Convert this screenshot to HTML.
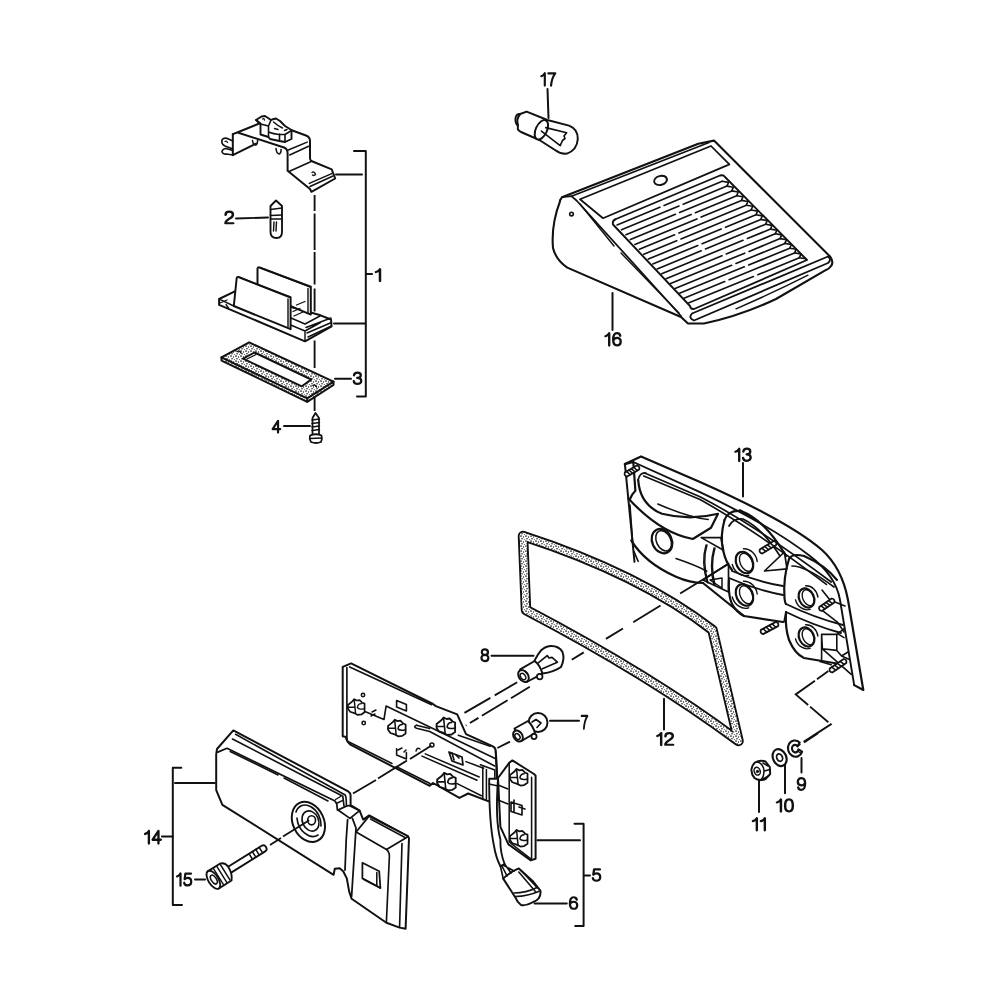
<!DOCTYPE html>
<html><head><meta charset="utf-8">
<style>
html,body{margin:0;padding:0;background:#fff;}
svg{display:block;}
text{font-family:"Liberation Sans",sans-serif;font-size:19px;fill:#111;stroke:#111;stroke-width:0.7px;}
</style></head><body>
<svg width="1000" height="1000" viewBox="0 0 1000 1000">
<rect width="1000" height="1000" fill="#fff"/>
<g fill="none" stroke="#111" stroke-width="1.98" stroke-linecap="round" stroke-linejoin="round">
<!-- ===== LABELS LINES ===== -->
<!-- bracket 1 -->
<path d="M354 151H365.8V396.4H357"/>
<path d="M366.5 274H372"/>
<path d="M336 174.6H362"/>
<path d="M334 323.6H365"/>
<path d="M335 378.7H351"/>
<path d="M236 218.5L268 217.5"/>
<path d="M284 426H310"/>
<!-- 17 / 16 / 13 -->
<path d="M547.5 89L548.5 118"/>
<path d="M612.5 293V330"/>
<path d="M743 463V496.5"/>
<!-- 8 / 7 / 12 -->
<path d="M491.5 655.7H533.5"/>
<path d="M550 720.8H579"/>
<path d="M664 698.7V729.5"/>
<!-- 9 10 11 -->
<path d="M801.5 758V772.4"/>
<path d="M785 764.7V793.3"/>
<path d="M759 780V812"/>
<!-- bracket 14 -->
<path d="M181.3 767.8H172.8V905H182"/>
<path d="M175 783.1H214.8"/>
<path d="M162 836.6H172.8"/>
<path d="M195 879.5H205"/>
<!-- bracket 5 -->
<path d="M574.5 823.8H583.6V926H575.2"/>
<path d="M537.4 840.3H580"/>
<path d="M584 875.6H590"/>
<path d="M534.6 903.4H566.8"/>
</g>

<!-- axis dashed part 1 -->
<path d="M314.6 195V210.9M314.6 213.6V250M314.6 252V284.4M314.6 288.4V311.6M314.6 340.4V368M314.6 372V411" stroke="#111" stroke-width="1.87" fill="none"/>
<!-- ===== PART 1 : holder bracket ===== -->
<g fill="none" stroke="#111" stroke-width="1.98" stroke-linecap="round" stroke-linejoin="round">
<path d="M232.8 134.2V155.2L256 143.6"/>
<path d="M232.8 134.2L238.4 132L260.5 123"/>
<path d="M238.4 132.8L284 147.5Q287.6 149 287.6 153V170.8L310 189L311.4 191.8L335.2 178.5L331.7 169.4L311.4 161Q310 160 310 158V141Q310 137 306 135.5L291 130"/>
<path d="M288.3 150L307.2 142.1M289.7 155L308.6 146.3M289 171.5L310.7 161.7M309.3 183.4L331.7 173.6M310 186.5L333 176" stroke-width="1.54"/>
<path d="M312 172.5Q314.5 171 315.5 174.5Q314 176 312.5 175" stroke-width="1.43"/>
<!-- tabs under -->
<path d="M252.5 140.5Q253 145 256 145Q258 143 257.5 140M276 148.5Q276.5 154 279.5 154Q281.5 152 281 149.5" stroke-width="1.54"/>
<!-- left tab -->
<path d="M232.8 141L228.5 139Q224 137 222 140Q221 144 225 146L232.8 149" stroke-width="1.65"/>
<path d="M232.8 150.5L226 148.5Q222 149 222 152Q223 154.5 226.5 154L232.8 155" stroke-width="1.65"/>
<path d="M225 141.5Q226.5 140.5 227.5 142.5" stroke-width="1.32"/>
<!-- switch -->
<path d="M256 120L261.5 116.5L265 116L271 120L272 119.5L276 118.5L280 121L285 126L291.5 130V139L285 142L279.5 141L270 139L268.5 137L260.5 134.5V124Z" fill="#fff" stroke-width="1.9"/>
<path d="M256 120L260.5 123.5M260.5 124L268.5 126V137M268.5 132Q273.5 134 279 134.5L285 134.5L291.5 130.5M279.5 134V141M285 134.5V142M271 120L268.5 126" fill="none" stroke-width="1.6"/>
<path d="M273.5 122Q278 126 282.5 128M274.5 128.5L278 129.5M284.5 130.5L287 129.5" fill="none" stroke-width="1.4"/>
<path d="M262.5 119Q264 118 264.5 120" fill="none" stroke-width="1.3"/>
</g>
<!-- bulb 2 -->
<g fill="none" stroke="#111" stroke-width="1.87" stroke-linecap="round" stroke-linejoin="round">
<path d="M270.5 206L276 200.5L282 206V232Q282 238 276.5 238Q270.5 238 270.5 232Z"/>
<path d="M270.5 209.5L282 208M270.5 215.5L282 215M271 219H281.5M274 222L273.5 231M276.5 222L276 231" stroke-width="1.43"/>
</g>
<!-- holder base -->
<g fill="#fff" stroke="#111" stroke-width="1.98" stroke-linecap="round" stroke-linejoin="round">
<path d="M219.1 299L235.4 291.2L320.5 315.3L331 319.5L331.6 326.3L305 341.3L219.1 304.9Z"/>
<path d="M257.5 292V268.5Q258 267 259.5 267.5L310.8 286.7V314.6Z"/>
<path d="M261 268L310.5 287" fill="none" stroke-width="1.43"/>
<path d="M236.7 278Q237 276.5 238.5 277L290.6 297.7V329.2L233.8 306Z"/>
<path d="M240 277.5L290.6 297M288 299V327M308 288.5V313" fill="none" stroke-width="1.43"/>
<path d="M220.4 299.7L233.8 306M290.6 325L305 331L320.5 322.5M305 331V341.3M291 318L305 324L320 316M306 327.5L331 318M307 333L331.5 322.5M308 337L331.5 326" fill="none" stroke-width="1.43"/>
<path d="M293 311.5L300 308.5M294 316L303 312M296.5 305L305 301.5" fill="none" stroke-width="1.32"/>
<path d="M220 303L227 300M226 304.5L228.5 308" fill="none" stroke-width="1.32"/>
</g>
<!-- gasket 3 -->
<defs>
<pattern id="stip" width="5" height="5" patternUnits="userSpaceOnUse">
<rect width="5" height="5" fill="#fff"/>
<circle cx="1" cy="1" r="0.85" fill="#111"/>
<circle cx="3.5" cy="2" r="0.7" fill="#222"/>
<circle cx="2" cy="3.8" r="0.75" fill="#111"/>
<circle cx="4.3" cy="4.4" r="0.5" fill="#333"/>
</pattern>
</defs>
<g stroke="#111" stroke-width="1.98" stroke-linecap="round" stroke-linejoin="round">
<path d="M221.5 357.3L249.1 342.4L333.5 381.6V385L307.2 401.8L221.5 360.6Z" fill="url(#stip)"/>
<path d="M221.5 357.3L307.2 398.4L333.5 381.6M307.2 398.4V401.8" fill="none"/>
<path d="M243 358.6L254.5 352.5L311.2 379.5L301.8 386.3Z" fill="#fff"/>
<path d="M237.5 351.5Q239.5 350 241 353M313 385.5Q315 384 316.5 387" fill="none" stroke-width="1.5"/>
<path d="M247 359L256 354.5" fill="none" stroke-width="1.32"/>
</g>
<!-- screw 4 -->
<g fill="none" stroke="#111" stroke-width="1.76" stroke-linecap="round" stroke-linejoin="round">
<path d="M312.5 418L315.5 413L319 418V434M312.5 418V434"/>
<path d="M312 420L319.5 419M312 423.5L319.5 422.5M312 427L319.5 426M312 430.5L319.5 429.5" stroke-width="1.43"/>
<path d="M310 435.5Q309 439 311 442Q316 444 321 442Q322.5 439 321.5 435.5Q316 433 310 435.5Z"/>
<path d="M310 438.5L321.5 438" stroke-width="1.43"/>
</g>

<!-- ===== bulb 17 ===== -->
<g fill="#fff" stroke="#111" stroke-width="1.98" stroke-linecap="round" stroke-linejoin="round">
<path d="M520.2 114Q516 113.5 515.4 119Q515.5 124.5 518.5 126"/>
<path d="M520.2 114L526.6 111.6L547.4 120L569 125.6Q578 129 577.8 139Q577 150 567 153.6Q561 154.5 555 150L539.4 140L521 132Q517.8 130 517.8 128.8L518 125Q516 119 520.2 114Z"/>
<ellipse cx="541.4" cy="129.8" rx="5.6" ry="10.4" transform="rotate(25 541.4 129.8)"/>
<path d="M545.8 127.6L566.6 132.8L564 136L565 138.5L562.5 140.5L560.2 145.6L541.4 131.2" fill="none" stroke-width="1.65"/>
</g>
<!-- ===== lamp 16 ===== -->
<g fill="#fff" stroke="#111" stroke-width="2.09" stroke-linecap="round" stroke-linejoin="round">
<path d="M560 200.4L562 197.2L698.3 143.7L714 140.6L830.3 256.8Q834 262 831 266Q829 269 826.5 269.7L776 299Q740 316 704 323.5L688 323.5L681 317L567.3 267.6Q556 260 553 248Q551 225 560 201.4Z"/>
<path d="M571.5 196.2L709 142.5" fill="none" stroke-width="1.65"/>
<path d="M562 197.2L571.5 196.2L577 201L681 316" fill="none" stroke-width="1.76"/>
<path d="M580 204L614 246M621 253L679 313" fill="none" stroke-width="1.43"/>
<path d="M580 199.3L711 146L729.4 164.4L603 218.2Z" fill="none" stroke-width="1.76"/>
<path d="M616 219L720 175.5Q723.5 174.5 725 177L807 260L694 309Q690.5 309.5 690 306L613 224.5Q612 220.5 616 219Z" fill="none" stroke-width="1.87"/>
<path d="M617.1 224.9L659.9 207.2M664.1 205.4L722.2 181.3M621.5 229.8L679.0 206.0M683.2 204.3L727.0 186.1M626.0 234.7L675.4 214.3M679.6 212.5L731.8 190.9M630.4 239.6L691.2 214.5M695.4 212.7L736.7 195.7M634.9 244.5L696.9 218.9M701.2 217.1L741.5 200.4M639.4 249.3L674.6 234.8M678.9 233.0L746.3 205.2M643.8 254.2L676.7 240.7M681.0 238.9L751.1 210.0M648.3 259.1L721.2 229.1M725.5 227.3L756.0 214.8M652.8 264.0L697.8 245.5M702.1 243.7L760.8 219.5M657.2 268.9L701.2 250.8M705.5 249.0L765.6 224.3M661.7 273.8L743.0 240.3M747.4 238.5L770.5 229.1M666.1 278.7L722.0 255.7M726.3 253.9L775.3 233.8M670.6 283.5L744.7 253.2M749.1 251.4L780.1 238.6M675.1 288.4L731.6 265.3M736.0 263.5L784.9 243.4M679.5 293.3L744.3 266.8M748.7 265.0L789.8 248.2M684.0 298.2L724.7 281.6M729.1 279.7L794.6 252.9M688.4 303.1L753.4 276.5M757.9 274.7L799.4 257.7" fill="none" stroke-width="1.65"/>
<path d="M722.2 181.3L728.5 182.4L727.0 186.1L733.3 187.2L731.8 190.9L738.2 192.0L736.7 195.7L743.0 196.8L741.5 200.4L747.8 201.5L746.3 205.2L752.7 206.3L751.1 210.0L757.5 211.1L756.0 214.8L762.3 215.9L760.8 219.5L767.2 220.6L765.6 224.3L772.0 225.4L770.5 229.1L776.8 230.2L775.3 233.8L781.6 234.9L780.1 238.6L786.5 239.7L784.9 243.4L791.3 244.5L789.8 248.2L796.1 249.3L794.6 252.9L801.0 254.0L799.4 257.7L805.8 258.8" fill="none" stroke-width="1.65"/>
<path d="M692 313.5Q688 318 694 320.5L828 263Q832 259.5 828 256.5Z" fill="none" stroke-width="1.87"/>
<path d="M736 308.8Q775 292 808 275.2" fill="none" stroke-width="1.43"/>
<ellipse cx="660.5" cy="180.4" rx="6.5" ry="4.5" transform="rotate(-15 660.5 180.4)" fill="none" stroke-width="1.87"/>
<path d="M662 175.5Q667 176 667 180" fill="none" stroke-width="1.43"/>
<circle cx="571.5" cy="214" r="1.8" fill="none" stroke-width="1.65"/>
</g>
<!-- ===== lamp 13 ===== -->
<g fill="none" stroke="#111" stroke-width="2.2" stroke-linecap="round" stroke-linejoin="round">
<path d="M624.9 464.1L641 456.4L700 482Q790 522 822 550Q842 568 848 600L863.3 690L854.2 686L850 672L832 667L795 656L784 622L703 583L634 561.4Z" fill="#fff" stroke="none"/>
<path d="M624.9 464.1L641 456.4L700 482Q790 522 822 550Q842 568 848 600L863.3 690L854.2 685.1"/>
<path d="M624.9 464.1L633.3 462L635.4 490.8Q632 494 630 499"/>
<path d="M633.3 462L700 492.2Q770 525 810 556Q836 576 840 600L854.2 685.1" stroke-width="1.9"/>
<path d="M624.9 464.1L634.5 561.8" stroke-width="2"/>
<path d="M645.2 473.2L700 496.7Q760 528 831.2 582M643.8 476L700 499.5Q758 532 826.4 584.4M740 510L755.6 519.6M638 480Q640 472 646 473" stroke-width="1.7"/>
<!-- upper-left lid -->
<path d="M638.2 480.2Q640 505 662 513.8Q690 521 718 513.8L711 527.8L692.8 539Q660 533 628.4 498.4"/>
<path d="M657.8 504Q690 518 708.2 519.4" stroke-width="1.54"/>

<!-- bowl 1 -->
<path d="M631.2 540.4Q645 563 676 576.8Q690 583 703 583"/>
<path d="M676 558.6Q695 565 706.8 571.2" stroke-width="1.54"/>
<path d="M634 551.6L638.2 561.4M632.6 541.8L630 505" stroke-width="1.54"/>
<ellipse cx="662" cy="541.1" rx="9.8" ry="12.6" transform="rotate(-25 662 541.1)"/><ellipse cx="663.6" cy="540.8000000000001" rx="7.1" ry="10.7" transform="rotate(-25 663.6 540.8000000000001)" stroke-width="1.54"/>
<!-- divider left -->
<path d="M701.2 537.6L720.8 537.6L723.6 550.2Z" stroke-width="1.65"/>
<path d="M707 545Q702 560 708 583M715 548Q710 565 715 585" stroke-width="1.43"/>
<!-- bowl 2 -->
<path d="M724.5 520Q728 510 741 511Q765 520 786 556"/>
<path d="M729 526Q733 518 743 519Q762 528 780 556" stroke-width="1.7"/>
<path d="M724.5 520Q720 536 723 550Q726 563 732 570"/>
<path d="M732 571Q758 582 783 586M729 578Q756 590 783 595" stroke-width="1.9"/>
<ellipse cx="744.5" cy="562.5" rx="8.2" ry="11.2" transform="rotate(-25 744.5 562.5)"/><ellipse cx="746.1" cy="562.2" rx="5.9" ry="9.5" transform="rotate(-25 746.1 562.2)" stroke-width="1.4"/><path transform="rotate(-25 744.5 562.5)" d="M732.6 559.1A11.9 14.0 0 0 0 742.9 575.9M749.4 549.6A11.9 13.4 0 0 1 756.4 567.0" stroke-width="1.4"/>
<!-- bowl 3 -->
<path d="M729 580Q728 595 732 604Q737 613 744 616L783 622"/>
<path d="M703 583L744 616"/>
<path d="M703 580L728.5 563.5L728.5 592Z" stroke-width="1.7"/>
<path d="M710 580L722 578V588Z" stroke-width="1.5"/>
<ellipse cx="744.5" cy="595" rx="8.2" ry="11.2" transform="rotate(-25 744.5 595)"/><ellipse cx="746.1" cy="594.7" rx="5.9" ry="9.5" transform="rotate(-25 746.1 594.7)" stroke-width="1.4"/><path transform="rotate(-25 744.5 595)" d="M732.6 591.6A11.9 14.0 0 0 0 742.9 608.4M749.4 582.1A11.9 13.4 0 0 1 756.4 599.5" stroke-width="1.4"/>
<path d="M764.5 571L787 568.8L784.4 552Z" stroke-width="1.7"/>
<path d="M706 545Q701 562 707 582M714 548Q709 566 714 585" stroke-width="1.4"/>
<!-- bowl 4 -->
<path d="M789 559Q792 553 804 556Q825 565 837 580"/>
<path d="M792 566Q806 566 834 587" stroke-width="1.7"/>
<path d="M789 559Q783 578 784.5 598Q785 603 786 604"/>
<path d="M786 604Q815 618 843 625M786 612Q815 626 841 633" stroke-width="1.9"/>
<ellipse cx="806.5" cy="598" rx="7.4" ry="9.9" transform="rotate(-25 806.5 598)"/><ellipse cx="808.1" cy="597.7" rx="5.3" ry="8.4" transform="rotate(-25 808.1 597.7)" stroke-width="1.4"/><path transform="rotate(-25 806.5 598)" d="M795.8 595.0A10.7 12.4 0 0 0 805.0 609.9M810.9 586.6A10.7 11.9 0 0 1 817.2 602.0" stroke-width="1.4"/>
<!-- bowl 5 -->
<path d="M786 612Q785 628 789 640Q795 654 804 658L840 664"/>
<ellipse cx="806.5" cy="637" rx="7.4" ry="9.9" transform="rotate(-25 806.5 637)"/><ellipse cx="808.1" cy="636.7" rx="5.3" ry="8.4" transform="rotate(-25 808.1 636.7)" stroke-width="1.4"/><path transform="rotate(-25 806.5 637)" d="M795.8 634.0A10.7 12.4 0 0 0 805.0 648.9M810.9 625.6A10.7 11.9 0 0 1 817.2 641.0" stroke-width="1.4"/>
<path d="M784 622L786 612" stroke-width="1.6"/>
<path d="M821.6 634.4H836.8V650.4L822.4 648.8ZM821.6 634.4V661.6M822.4 648.8L851.2 674.4M836.8 650.4L841.6 656L848 652M837.6 633.6L844 628.8M837.6 633.6L844 637.6M841.6 656L848.8 659.2M820 661.6L831.2 664.8M822.9 610.9L837.7 622.4L844 632M822 590L830 600L845 606" stroke-width="1.6"/>
<path d="M627.2 476.6L639.2 469.6Q640.2 466.2 636.8 465.4L624.8 472.4Q623.8 475.8 627.2 476.6Z" fill="#fff" stroke-width="1.76"/><path d="M630.3 474.8L626.5 471.4M632.7 473.4L628.9 470.0M635.1 472.0L631.3 468.6M637.5 470.6L633.7 467.2" stroke-width="1.54"/><path d="M762.2 553.6L776.2 545.1Q777.1 541.7 773.8 540.9L759.8 549.4Q758.9 552.8 762.2 553.6Z" fill="#fff" stroke-width="1.76"/><path d="M765.7 551.4L761.9 548.2M768.5 549.7L764.7 546.5M771.3 548.0L767.5 544.8M774.1 546.3L770.3 543.1" stroke-width="1.54"/><path d="M821.8 611.0L834.3 602.5Q835.1 599.1 831.7 598.5L819.2 607.0Q818.4 610.4 821.8 611.0Z" fill="#fff" stroke-width="1.76"/><path d="M825.0 608.8L821.0 605.8M827.5 607.1L823.5 604.1M830.0 605.4L826.0 602.4M832.5 603.7L828.5 600.7" stroke-width="1.54"/><path d="M763.1 634.1L778.1 626.1Q779.2 622.8 775.9 621.9L760.9 629.9Q759.8 633.2 763.1 634.1Z" fill="#fff" stroke-width="1.76"/><path d="M766.8 632.1L763.2 628.7M769.8 630.5L766.2 627.1M772.8 628.9L769.2 625.5M775.8 627.3L772.2 623.9" stroke-width="1.54"/><path d="M832.3 672.5L846.3 663.0Q847.1 659.6 843.7 659.0L829.7 668.5Q828.9 671.9 832.3 672.5Z" fill="#fff" stroke-width="1.76"/><path d="M835.8 670.1L831.8 667.1M838.6 668.2L834.6 665.2M841.4 666.3L837.4 663.3M844.2 664.4L840.2 661.4" stroke-width="1.54"/>
</g>
<path d="M728.8 563.8L571.3 660" fill="none" stroke="#111" stroke-width="1.87" stroke-dasharray="57 23 32 12 20 26 14 100"/>
<!-- ===== gasket 12 ===== -->
<g fill="none" stroke-linecap="round" stroke-linejoin="round">
<path id="g12" d="M523 536Q640 574 712.5 630L738.5 741Q650 675 526 610Z" stroke="#111" stroke-width="10.5"/>
<path d="M523 536Q640 574 712.5 630L738.5 741Q650 675 526 610Z" stroke="#fff" stroke-width="6.5"/>
<path d="M523 536Q640 574 712.5 630L738.5 741Q650 675 526 610Z" stroke="url(#stip)" stroke-width="6.5"/>
</g>

<!-- ===== board 5 ===== -->
<g fill="#fff" stroke="#111" stroke-width="1.98" stroke-linecap="round" stroke-linejoin="round">
<path d="M342.7 666.9L351.1 663.4L433 704L435.8 706.1L457.2 714.3L466 734.1L492.4 746.2Q495.7 748 495.7 750.6L496.8 766L498 800L488 801.2L468.2 793.5L459.4 797.9L433 783L429.7 785.8L350.4 744.6Q346 741 346 737L342.7 736.2Z"/>
<path d="M509.2 762.8L512.4 760.4L534 774L535.6 775.6V858.8L530.8 860.4L508.4 844.4L500.4 826.8L498 778Z"/>
<path d="M349.7 666.9L431.6 704.7M346.9 667.6V737.6Q347 742 350.4 744.6" fill="none" stroke-width="1.65"/>
<path d="M349 742L392 763.5M396 766.5L430 783.5" fill="none" stroke-width="1.54"/>
<path d="M363.7 711L384 719.4L386.1 706.1L494.6 758.3" fill="none" stroke-width="1.65"/>
<path d="M458.3 735.2L490.2 746.2" fill="none" stroke-width="1.54"/>
<path d="M416.5 725.3Q413 726.5 416.5 728.2L429.7 731.5L494.6 766" fill="none" stroke-width="1.65"/>
<path d="M416.5 725.3L429.7 728.6" fill="none" stroke-width="1.54"/>
<path d="M425.3 753.9L479.2 777M422 756.1L477 780.3M466 761.6L483.6 768.2M457.2 783.6L481.4 795.7" fill="none" stroke-width="1.54"/>
<path d="M480.4 764.8L494.8 770V800M482.8 767.2V799.6M486.4 769.6V799.6" fill="none" stroke-width="1.54"/>
<path d="M495.4 750.4L496.6 778" fill="none" stroke-width="1.43"/>
<path d="M531.6 777.2V858.8M509.2 762.8V842L530.8 858.8" fill="none" stroke-width="1.54"/>
<path d="M396.6 700.5L406.4 704.5V711L396.6 707Z" fill="none" stroke-width="1.65"/>
<path d="M396.6 748.8V755L406.4 759V752.5M398 750L402 748M404 752L406 750" fill="none" stroke-width="1.54"/>
<path d="M416 751Q417 747 420 749" fill="none" stroke-width="1.43"/>
<circle cx="363" cy="695" r="1.7" fill="none" stroke-width="1.54"/>
<circle cx="363.7" cy="723" r="1.7" fill="none" stroke-width="1.54"/>
<circle cx="431.9" cy="745.1" r="2" fill="none" stroke-width="1.54"/>
<path d="M372 712L376 710M371 716L375 714" fill="none" stroke-width="1.43"/>
<g transform="translate(356 706.8) scale(0.9)">
<path d="M-9 -2L-4 -6L-2 -8.5L1 -7L4 -7.5L7 -4.5L9.5 -3.5L9.5 1L9.5 6L6 8.5L2 9L-2 7L-6.5 5.5L-9 2Z" fill="#fff" stroke-width="1.87"/>
<path d="M-2 -8L-0.5 7M-9 0.5H-1.5M1.5 1Q2 -3.5 6 -3.5M1.5 1Q3 3.5 9.5 2" fill="none" stroke-width="1.6"/>
</g><g transform="translate(396.6 727.8) scale(0.95)">
<path d="M-9 -2L-4 -6L-2 -8.5L1 -7L4 -7.5L7 -4.5L9.5 -3.5L9.5 1L9.5 6L6 8.5L2 9L-2 7L-6.5 5.5L-9 2Z" fill="#fff" stroke-width="1.87"/>
<path d="M-2 -8L-0.5 7M-9 0.5H-1.5M1.5 1Q2 -3.5 6 -3.5M1.5 1Q3 3.5 9.5 2" fill="none" stroke-width="1.6"/>
</g><g transform="translate(445.6 726) scale(1.0)">
<path d="M-9 -2L-4 -6L-2 -8.5L1 -7L4 -7.5L7 -4.5L9.5 -3.5L9.5 1L9.5 6L6 8.5L2 9L-2 7L-6.5 5.5L-9 2Z" fill="#fff" stroke-width="1.87"/>
<path d="M-2 -8L-0.5 7M-9 0.5H-1.5M1.5 1Q2 -3.5 6 -3.5M1.5 1Q3 3.5 9.5 2" fill="none" stroke-width="1.6"/>
</g><g transform="translate(446.2 781.4) scale(1.0)">
<path d="M-9 -2L-4 -6L-2 -8.5L1 -7L4 -7.5L7 -4.5L9.5 -3.5L9.5 1L9.5 6L6 8.5L2 9L-2 7L-6.5 5.5L-9 2Z" fill="#fff" stroke-width="1.87"/>
<path d="M-2 -8L-0.5 7M-9 0.5H-1.5M1.5 1Q2 -3.5 6 -3.5M1.5 1Q3 3.5 9.5 2" fill="none" stroke-width="1.6"/>
</g><g transform="translate(518.5 777) scale(0.95)">
<path d="M-9 -2L-4 -6L-2 -8.5L1 -7L4 -7.5L7 -4.5L9.5 -3.5L9.5 1L9.5 6L6 8.5L2 9L-2 7L-6.5 5.5L-9 2Z" fill="#fff" stroke-width="1.87"/>
<path d="M-2 -8L-0.5 7M-9 0.5H-1.5M1.5 1Q2 -3.5 6 -3.5M1.5 1Q3 3.5 9.5 2" fill="none" stroke-width="1.6"/>
</g><g transform="translate(518.5 838) scale(0.95)">
<path d="M-9 -2L-4 -6L-2 -8.5L1 -7L4 -7.5L7 -4.5L9.5 -3.5L9.5 1L9.5 6L6 8.5L2 9L-2 7L-6.5 5.5L-9 2Z" fill="#fff" stroke-width="1.87"/>
<path d="M-2 -8L-0.5 7M-9 0.5H-1.5M1.5 1Q2 -3.5 6 -3.5M1.5 1Q3 3.5 9.5 2" fill="none" stroke-width="1.6"/>
</g>
<path d="M449 752L462 757L463 765L452 761Z" stroke-width="1.76"/>
<path d="M452 753L454 760M456 755L459 758" fill="none" stroke-width="1.65"/>
<path d="M511 802L522 805.5V815L511 811.5ZM514 800V812M519 807L525 809" fill="none" stroke-width="1.65"/>
<path d="M498 785L508 789M498 800L508 804" fill="none" stroke-width="1.43"/>
</g>
<!-- ===== dashed lines (board/bulbs) ===== -->
<g fill="none" stroke="#111" stroke-width="1.87" stroke-linecap="butt">
<path d="M517.2 682.3L461.4 714.7" stroke-dasharray="26 5 30 5"/>
<path d="M529.8 686.8L465.9 725.5" stroke-dasharray="22 4 30 4 10 4"/>
<path d="M510 741.7L497.4 748"/>
<path d="M431.5 745.5L410 759M407 760.5L378 778.5M376 780L353 793.5"/>
<path d="M828.4 671.1L795.7 694.4L830.8 724.3L803.7 741.9" stroke-dasharray="14 2.5 40 2.5 24 2.5 40"/>
<path d="M804 742.4L818 733.2"/>
</g>
<!-- ===== cable + connector 6 ===== -->
<g fill="#fff" stroke="#111" stroke-width="1.87" stroke-linecap="round" stroke-linejoin="round">
<path d="M489.2 778.8Q489 822 494 846Q496 858 500.4 866.2L504.6 864Q500 852 500.4 839.6Q495 820 498 778.8Z"/>
<path d="M489 784L498 786" fill="none" stroke-width="1.43"/>
</g>
<g fill="#fff" stroke="#111" stroke-width="1.98" stroke-linecap="round" stroke-linejoin="round">
<path d="M503.2 878.6Q510 872 518.8 868.4L533.2 881.6L540.4 890.6Q541.5 899 533.2 902Q526 906 521 905Q517 902 515.2 897.2Z"/>
<path d="M515.2 896.6Q528 896 539.2 891.2M514 893Q526 893 537 887.5" fill="none" stroke-width="1.54"/>
<path d="M518.8 872L535.6 891.8M521 870.5L537.5 888" fill="none" stroke-width="1.54"/>
<path d="M500.4 866L503.2 878.6M504.6 864L511 873M502 866L507 876M503 865L514 871" fill="none" stroke-width="1.65"/>
</g>
<!-- ===== bulb 8 ===== -->
<g fill="#fff" stroke="#111" stroke-width="1.98" stroke-linecap="round" stroke-linejoin="round">
<path d="M534.6 660.4Q538 654 541.2 650.2Q546 646 551.4 646Q559 646 562.5 652Q565 659 561 667Q554 672 542.4 673.6Z"/>
<path d="M520.2 669.4L534.6 661Q540 665 542.4 673.6L526.8 682Z"/>
<ellipse cx="523.5" cy="676" rx="4.6" ry="6.6" transform="rotate(-35 523.5 676)"/>
<ellipse cx="523" cy="676.5" rx="2.3" ry="3.6" transform="rotate(-35 523 676.5)" stroke-width="1.43"/>
<path d="M524.5 671L527 673.5" stroke-width="1.32"/>
<circle cx="539.7" cy="676.6" r="2.8" stroke-width="1.76"/>
<path d="M538.2 662.8L547.2 655.6L549 658L552 657.4L557.4 662.2L542.4 668.8" fill="none" stroke-width="1.65"/>
</g>
<!-- ===== bulb 7 ===== -->
<g fill="#fff" stroke="#111" stroke-width="1.98" stroke-linecap="round" stroke-linejoin="round">
<circle cx="538" cy="722.5" r="9.5"/>
<path d="M514.5 728.5L528 721Q533 726 535 733L521.5 741Z"/>
<path d="M532 722L536 719.5L541 723L537 727.5" fill="none" stroke-width="1.65"/>
<ellipse cx="518" cy="736" rx="4.3" ry="6" transform="rotate(-35 518 736)"/>
<ellipse cx="517.5" cy="736.5" rx="2.2" ry="3.3" transform="rotate(-35 517.5 736.5)" stroke-width="1.43"/>
<circle cx="534" cy="736.5" r="2.6" stroke-width="1.76"/>
</g>
<!-- ===== lamp 14 ===== -->
<g fill="#fff" stroke="#111" stroke-width="1.98" stroke-linecap="round" stroke-linejoin="round">
<path d="M217 749L233.3 730.4L348.2 791.4Q350.6 793 350.6 795.6V805.2L359.6 810.6L363.2 819.6L369.2 815.4L407.4 836L409 838L405.6 928.8L399.6 927.6L386.4 922.8L351.6 898.8L349.2 891.6L346.8 878.4L343.2 871.2L339.6 868.2L334.8 868.8L333.6 874.8L222.4 804.8L216.2 790.1V754.5Z"/>
<path d="M235.6 734.3L345.2 795Q346.4 797 346.4 805.2M232.5 739L342.8 796.2L344 805.8" fill="none" stroke-width="1.65"/>
<path d="M217.8 752.1L227 748.3L335 801L336.8 804L337.4 810" fill="none" stroke-width="1.76"/>
<path d="M230.2 751.5L278 775M284 778L328 801" fill="none" stroke-width="1.54"/>
<path d="M335.5 799.5L340.5 796.5M337.4 803L342.8 800.4" fill="none" stroke-width="1.43"/>
<path d="M338 810L345.8 806.4Q348.5 805 351.2 806.4L359.6 810.6L350 818.4Z" stroke-width="1.76"/>
<path d="M347.6 819.6L346.2 840L345 870M352.4 818.4L356 828L351.6 896.4" fill="none" stroke-width="1.76"/>
<path d="M356.1 832L369.1 816.1L408.3 836.4L386.5 849.4Z" stroke-width="1.76"/>
<path d="M370.5 819L405 837.5" fill="none" stroke-width="1.43"/>
<path d="M386.5 849.4Q389.4 852 389.4 856L386.4 921.6M402 843.6L399.6 926.4" fill="none" stroke-width="1.65"/>
<path d="M362.4 862.8L379.2 871.2L380.4 888L362.4 878.4Z" stroke-width="1.76"/>
<path d="M376.8 872.4V885M364 879.5L380.4 888" fill="none" stroke-width="1.54"/>
<ellipse cx="308.4" cy="821.9" rx="15.5" ry="21" transform="rotate(-25 308.4 821.9)" fill="none"/>
<path d="M296 812A12 16.5 -25 0 1 321 826M318 835A12 16.5 -25 0 1 297 818" fill="none" stroke-width="1.65"/>
<ellipse cx="310.5" cy="821" rx="8" ry="10.5" transform="rotate(-25 310.5 821)" fill="none" stroke-width="1.65"/>
<ellipse cx="311.6" cy="820.3" rx="3.9" ry="4.6" fill="none" stroke-width="1.65"/>
</g>
<path d="M309.2 820.3L283 836.6M281 838L270 845" fill="none" stroke="#111" stroke-width="1.76"/>
<!-- ===== screw 15 ===== -->
<g fill="#fff" stroke="#111" stroke-width="1.87" stroke-linecap="round" stroke-linejoin="round" transform="translate(213.4 879.8) rotate(-32)">
<path d="M17 -3.3H59Q62 -3.3 62 0Q62 3.3 59 3.3H17Z"/>
<path d="M44 -3.3V3.3M48 -3.3V3.3M52 -3.3V3.3M56 -3.3V3.3" fill="none" stroke-width="1.54"/>
<path d="M0 -10.2H14Q19 -9 19.5 -3Q19.5 5 15 10.2H0Z"/>
<path d="M6 -9.5V9.5M10 -9.5V9.5M14 -9V9" fill="none" stroke-width="1.43"/>
<ellipse cx="0" cy="0" rx="5" ry="10.2"/>
<ellipse cx="0.5" cy="0" rx="2.5" ry="5" stroke-width="1.54"/>
</g>
<!-- ===== 9 10 11 ===== -->
<g fill="#fff" stroke="#111" stroke-width="1.98" stroke-linecap="round" stroke-linejoin="round">
<path d="M755 762.5Q760 759.5 765.5 761.5L769.8 767L770.2 774L765.5 779Q759 781.5 754.5 778Q751 774 751.5 769Q752.5 764.5 755 762.5Z"/>
<path d="M757 762Q763 763 764 770.5Q764 778 760 780.5M764.3 771L770 769.5M763 763L768 766M763 779L768.5 776" fill="none" stroke-width="1.5"/>
<ellipse cx="757.2" cy="771.2" rx="3" ry="4" transform="rotate(-20 757.2 771.2)" stroke-width="1.5"/>
<circle cx="757.5" cy="771.5" r="1.2" fill="#111" stroke-width="1"/>
<ellipse cx="779.6" cy="757.6" rx="6.6" ry="8.8" transform="rotate(-25 779.6 757.6)" stroke-width="2.20"/>
<ellipse cx="779.6" cy="757.6" rx="2.8" ry="3.8" transform="rotate(-25 779.6 757.6)" stroke-width="1.76"/>
<path d="M801.1 743.9A7.2 8.2 0 1 0 801.1 753.3L798.1 750.2A3.2 3.8 0 1 1 798.1 747.0Z" stroke-width="2.09" transform="rotate(-15 795.2 748.6)"/>
<path d="M797.5 746.5L800 744.5M797.5 751L800.5 753" fill="none" stroke-width="1.43"/>
</g>
<g fill="none" stroke="#111" stroke-width="2.31" stroke-linecap="round" stroke-linejoin="round" vector-effect="non-scaling-stroke"><path transform="translate(375.00 268.50) scale(1.083 0.942)" d="M0.9 3.8C2.6 3.3 3.9 2.2 4.6 0.7V13.4"/><path transform="translate(224.50 211.00) scale(1.056 0.942)" d="M1 4.2C1 1.9 2.5 0.7 4.5 0.7C6.6 0.7 8 2 8 3.9C8 6 6.4 7.1 4.3 8.4C2.2 9.7 1 11.2 0.9 13H8.3"/><path transform="translate(353.00 372.00) scale(1.000 0.906)" d="M1 3.8C1.2 1.8 2.6 0.7 4.5 0.7C6.5 0.7 7.8 1.9 7.8 3.6C7.8 5.4 6.4 6.5 4.2 6.5M4.2 6.5C6.7 6.5 8.2 7.8 8.2 9.8C8.2 11.9 6.6 13.1 4.5 13.1C2.4 13.1 1 11.9 0.8 10"/><path transform="translate(272.00 420.00) scale(0.944 0.942)" d="M6.4 13.4V0.8L0.7 9.6H8.7"/><path transform="translate(592.00 868.60) scale(1.000 0.928)" d="M7.9 0.9H2.1L1.3 6.6C2.1 5.7 3.2 5.2 4.5 5.2C6.8 5.2 8.2 6.9 8.2 9.1C8.2 11.6 6.6 13.1 4.4 13.1C2.5 13.1 1.1 12 0.8 10.3"/><path transform="translate(569.00 896.60) scale(1.000 0.928)" d="M7.8 3.3C7.4 1.6 6.2 0.7 4.6 0.7C2.2 0.7 0.9 3 0.9 7.4C0.9 11.2 2.3 13.1 4.6 13.1C6.8 13.1 8.2 11.5 8.2 9.2C8.2 6.9 6.8 5.5 4.7 5.5C3 5.5 1.6 6.4 1 7.9"/><path transform="translate(581.00 715.00) scale(0.778 1.014)" d="M0.8 0.9H8.2C5.6 4 4.2 8.2 3.7 13.4"/><path transform="translate(480.60 648.60) scale(0.956 0.957)" d="M4.5 6.6C2.6 6.6 1.3 5.5 1.3 3.7C1.3 1.9 2.6 0.7 4.5 0.7C6.4 0.7 7.7 1.9 7.7 3.7C7.7 5.5 6.4 6.6 4.5 6.6C2.3 6.6 0.9 7.8 0.9 9.8C0.9 11.8 2.4 13.1 4.5 13.1C6.6 13.1 8.1 11.8 8.1 9.8C8.1 7.8 6.7 6.6 4.5 6.6Z"/><path transform="translate(797.00 777.50) scale(1.000 0.942)" d="M1.2 10.5C1.6 12.2 2.8 13.1 4.4 13.1C6.8 13.1 8.1 10.8 8.1 6.4C8.1 2.6 6.7 0.7 4.4 0.7C2.2 0.7 0.8 2.3 0.8 4.6C0.8 6.9 2.2 8.3 4.3 8.3C6 8.3 7.4 7.4 8 5.9"/><path transform="translate(776.00 798.80) scale(1.072 0.957)" d="M0.9 3.8C2.6 3.3 3.9 2.2 4.6 0.7V13.4"/><path transform="translate(784.15 798.80) scale(1.072 0.957)" d="M4.5 0.7C2.2 0.7 0.9 2.9 0.9 6.9C0.9 10.9 2.2 13.1 4.5 13.1C6.8 13.1 8.1 10.9 8.1 6.9C8.1 2.9 6.8 0.7 4.5 0.7Z"/><path transform="translate(752.00 817.50) scale(1.051 0.957)" d="M0.9 3.8C2.6 3.3 3.9 2.2 4.6 0.7V13.4"/><path transform="translate(759.99 817.50) scale(1.051 0.957)" d="M0.9 3.8C2.6 3.3 3.9 2.2 4.6 0.7V13.4"/><path transform="translate(656.30 732.40) scale(1.060 0.949)" d="M0.9 3.8C2.6 3.3 3.9 2.2 4.6 0.7V13.4"/><path transform="translate(664.36 732.40) scale(1.060 0.949)" d="M1 4.2C1 1.9 2.5 0.7 4.5 0.7C6.6 0.7 8 2 8 3.9C8 6 6.4 7.1 4.3 8.4C2.2 9.7 1 11.2 0.9 13H8.3"/><path transform="translate(734.50 448.00) scale(1.024 0.978)" d="M0.9 3.8C2.6 3.3 3.9 2.2 4.6 0.7V13.4"/><path transform="translate(742.28 448.00) scale(1.024 0.978)" d="M1 3.8C1.2 1.8 2.6 0.7 4.5 0.7C6.5 0.7 7.8 1.9 7.8 3.6C7.8 5.4 6.4 6.5 4.2 6.5M4.2 6.5C6.7 6.5 8.2 7.8 8.2 9.8C8.2 11.9 6.6 13.1 4.5 13.1C2.4 13.1 1 11.9 0.8 10"/><path transform="translate(144.20 830.20) scale(1.018 0.993)" d="M0.9 3.8C2.6 3.3 3.9 2.2 4.6 0.7V13.4"/><path transform="translate(151.94 830.20) scale(1.018 0.993)" d="M6.4 13.4V0.8L0.7 9.6H8.7"/><path transform="translate(176.10 872.80) scale(0.958 0.964)" d="M0.9 3.8C2.6 3.3 3.9 2.2 4.6 0.7V13.4"/><path transform="translate(183.38 872.80) scale(0.958 0.964)" d="M7.9 0.9H2.1L1.3 6.6C2.1 5.7 3.2 5.2 4.5 5.2C6.8 5.2 8.2 6.9 8.2 9.1C8.2 11.6 6.6 13.1 4.4 13.1C2.5 13.1 1.1 12 0.8 10.3"/><path transform="translate(604.50 332.50) scale(1.024 0.978)" d="M0.9 3.8C2.6 3.3 3.9 2.2 4.6 0.7V13.4"/><path transform="translate(612.28 332.50) scale(1.024 0.978)" d="M7.8 3.3C7.4 1.6 6.2 0.7 4.6 0.7C2.2 0.7 0.9 3 0.9 7.4C0.9 11.2 2.3 13.1 4.6 13.1C6.8 13.1 8.2 11.5 8.2 9.2C8.2 6.9 6.8 5.5 4.7 5.5C3 5.5 1.6 6.4 1 7.9"/><path transform="translate(540.50 72.50) scale(0.934 0.978)" d="M0.9 3.8C2.6 3.3 3.9 2.2 4.6 0.7V13.4"/><path transform="translate(547.60 72.50) scale(0.934 0.978)" d="M0.8 0.9H8.2C5.6 4 4.2 8.2 3.7 13.4"/></g>
</svg>
</body></html>
